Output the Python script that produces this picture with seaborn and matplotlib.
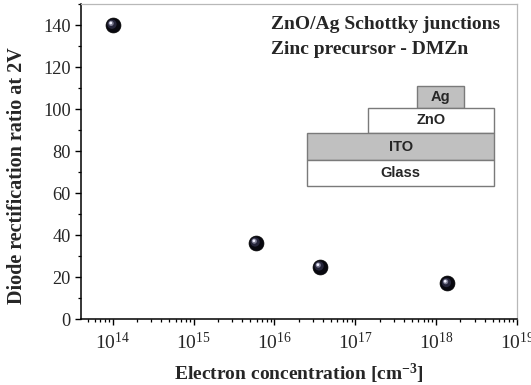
import matplotlib
matplotlib.use("Agg")
import matplotlib.pyplot as plt
import matplotlib.transforms as mtransforms
from matplotlib.patches import Rectangle
from matplotlib.ticker import MultipleLocator, LogLocator, LogFormatterSciNotation, NullFormatter
import seaborn as sns
import pandas as pd

# ---- data ----
concentration = [1.0e14, 5.9e15, 3.65e16, 1.37e18]
rectification_ratio = [140.0, 36.3, 24.9, 17.0]
title_lines = ["ZnO/Ag Schottky junctions", "Zinc precursor - DMZn"]
layers = ["Ag", "ZnO", "ITO", "Glass"]
y_ticks = [0, 20, 40, 60, 80, 100, 120, 140]

df = pd.DataFrame({"conc": concentration, "ratio": rectification_ratio})

sns.set_style("ticks")
plt.rcParams["font.family"] = ["Liberation Serif", "DejaVu Serif"]
plt.rcParams["mathtext.fontset"] = "custom"
plt.rcParams["mathtext.rm"] = "Liberation Serif"
plt.rcParams["mathtext.it"] = "Liberation Serif:italic"
plt.rcParams["mathtext.bf"] = "Liberation Serif:bold"

W, H = 531, 385
fig = plt.figure(figsize=(W / 100, H / 100), dpi=100)
# axes in pixel coords: left 81, right 517, top 4, bottom 319
ax = fig.add_axes([81 / W, 1 - 319 / H, (517 - 81) / W, (319 - 4) / H])

# spheres: layered markers
sns.scatterplot(data=df, x="conc", y="ratio", ax=ax, s=115, color="#08080f",
                edgecolor="#000000", linewidth=0.5, zorder=3, legend=False)
for dx, dy, s, c in [(-0.8, 0.8, 45, "#25253a"), (-1.6, 1.6, 14, "#7a7a90"), (-2.0, 2.0, 4, "#f0f0ff")]:
    tr = mtransforms.offset_copy(ax.transData, fig=fig, x=dx, y=dy, units="dots")
    sns.scatterplot(data=df, x="conc", y="ratio", ax=ax, s=s, color=c, edgecolor="none",
                    linewidth=0, zorder=4, legend=False, transform=tr)

ax.set_xscale("log")
ax.set_xlim(4.05e13, 1e19)
ax.set_ylim(0, 150)
ax.yaxis.set_major_locator(MultipleLocator(20))
ax.yaxis.set_minor_locator(MultipleLocator(10))
ax.set_yticks(y_ticks)
ax.xaxis.set_major_locator(LogLocator(base=10, numticks=20))
ax.xaxis.set_minor_locator(LogLocator(base=10, subs=range(2, 10), numticks=100))
ax.xaxis.set_minor_formatter(NullFormatter())
ax.xaxis.set_major_formatter(LogFormatterSciNotation())

ax.tick_params(axis="both", which="major", direction="out", length=4.3, width=1.0,
               color="black", pad=3)
ax.tick_params(axis="y", which="major", labelsize=13.2, pad=3)
ax.tick_params(axis="x", which="major", labelsize=14, pad=5)
ax.tick_params(axis="both", which="minor", direction="out", length=2.5, width=0.9, color="black")

for side in ["left", "bottom"]:
    ax.spines[side].set_color("black")
    ax.spines[side].set_linewidth(1.1)
for side in ["top", "right"]:
    ax.spines[side].set_visible(True)
    ax.spines[side].set_color("#b8b8b8")
    ax.spines[side].set_linewidth(0.9)

ax.set_xlabel("Electron concentration [cm$^{\\mathbf{-3}}$]", fontsize=14, fontweight="bold", labelpad=6)
ax.set_ylabel("Diode rectification ratio at 2V", fontsize=14.5, fontweight="bold")
ax.yaxis.set_label_coords(-0.124, 0.455)

# text block
fig.text(271 / W, 1 - 24.7 / H, title_lines[0], fontsize=14, fontweight="bold", ha="left", va="center")
fig.text(271 / W, 1 - 49.8 / H, title_lines[1], fontsize=14, fontweight="bold", ha="left", va="center")

# inset device schematic (pixel boxes: x0, x1, y0, y1)
boxes = [
    (416.7, 464.3, 85.7, 107.7, "#c0c0c0"),
    (368.3, 494.3, 107.7, 133.3, "#ffffff"),
    (307.3, 494.3, 133.3, 160.0, "#c0c0c0"),
    (307.3, 494.3, 160.0, 186.0, "#ffffff"),
]
for (x0, x1, y0, y1, fc), name in zip(boxes, layers):
    r = Rectangle((x0 / W, 1 - y1 / H), (x1 - x0) / W, (y1 - y0) / H, transform=fig.transFigure,
                  facecolor=fc, edgecolor="#7a7a7a", linewidth=1.0, zorder=5)
    fig.add_artist(r)
    fig.text((x0 + x1) / 2 / W, 1 - (y0 + y1) / 2 / H, name, fontsize=10.5, fontweight="bold",
             family=["Liberation Sans", "DejaVu Sans"], ha="center", va="center", zorder=6)

fig.savefig("out.png", dpi=100)
